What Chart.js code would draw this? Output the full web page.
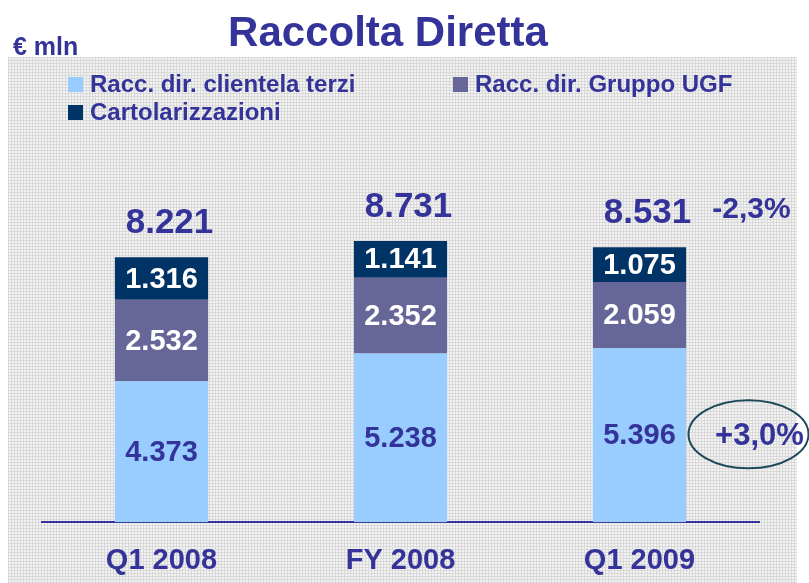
<!DOCTYPE html>
<html>
<head>
<meta charset="utf-8">
<script src="https://cdn.jsdelivr.net/npm/chart.js@4"></script>
<style>
html, body { margin: 0; padding: 0; background: #fff; }
#wrap { position: relative; width: 809px; height: 583px; overflow: hidden; }
#tex {
    position: absolute; left: 8px; top: 57px; width: 789px; height: 526px;
    background-color: #f3f3f3;
    background-image: linear-gradient(#d9d9d9 1px, transparent 1px),
                      linear-gradient(90deg, #d9d9d9 1px, transparent 1px);
    background-size: 3px 3px;
}
canvas { position: absolute; left: 0; top: 0; }
</style>
</head>
<body>
<div id="wrap">
    <div id="tex"></div>
    <canvas id="raccolta" width="809" height="583"></canvas>
</div>
<script>
// Dati (€ mln)
const periodi = ['Q1 2008', 'FY 2008', 'Q1 2009'];
const clientelaTerzi = [4373, 5238, 5396];
const gruppoUGF = [2532, 2352, 2059];
const cartolarizzazioni = [1316, 1141, 1075];
const totali = [8221, 8731, 8531];   // come riportati (arrotondamenti)
const nomiSerie = ['Racc. dir. clientela terzi', 'Racc. dir. Gruppo UGF', 'Cartolarizzazioni'];

const BLU = '#333399';
const FONT = '"Liberation Sans", Arial, sans-serif';
const coloriSerie = ['#99ccff', '#666699', '#003366'];
const coloriEtichette = [BLU, '#ffffff', '#ffffff'];

// 8221 -> "8.221"
function formatta(n) {
    return String(n).replace(/\B(?=(\d{3})+(?!\d))/g, '.');
}
function percentuale(nuovo, vecchio) {
    const v = (nuovo - vecchio) / vecchio * 100;
    return (v >= 0 ? '+' : '') + v.toFixed(1).replace('.', ',') + '%';
}

// Etichette, totali, titolo e legenda
const annotazioni = {
    id: 'annotazioni',
    afterDatasetsDraw(chart) {
        const ctx = chart.ctx;
        const n = chart.data.datasets.length;
        ctx.save();
        ctx.textAlign = 'center';
        ctx.textBaseline = 'middle';

        // valori dentro i segmenti
        ctx.font = 'bold 29px ' + FONT;
        chart.data.datasets.forEach((ds, i) => {
            chart.getDatasetMeta(i).data.forEach((bar, j) => {
                ctx.fillStyle = coloriEtichette[i];
                ctx.fillText(formatta(ds.data[j]), bar.x, (bar.y + bar.base) / 2 + 1);
            });
        });

        // totali sopra le barre
        const barreAlte = chart.getDatasetMeta(n - 1).data;
        ctx.fillStyle = BLU;
        ctx.font = 'bold 35px ' + FONT;
        barreAlte.forEach((bar, j) => {
            ctx.fillText(formatta(totali[j]), bar.x + 8, bar.y - 34);
        });

        // variazione del totale
        const ultima = barreAlte[barreAlte.length - 1];
        ctx.font = 'bold 30px ' + FONT;
        ctx.fillText(percentuale(totali[2], totali[1]), ultima.x + 112, ultima.y - 38);

        // variazione clientela terzi, cerchiata
        const base = chart.getDatasetMeta(0).data[2];
        const yc = (base.y + base.base) / 2 + 1;
        ctx.font = 'bold 31px ' + FONT;
        ctx.fillText(percentuale(clientelaTerzi[2], clientelaTerzi[1]), base.x + 120, yc);
        ctx.beginPath();
        ctx.ellipse(base.x + 109, yc - 2, 60, 34, 0, 0, Math.PI * 2);
        ctx.strokeStyle = '#1c4a5c';
        ctx.lineWidth = 2;
        ctx.stroke();
        ctx.restore();
    },
    afterDraw(chart) {
        const ctx = chart.ctx;
        ctx.save();
        ctx.fillStyle = BLU;
        ctx.textBaseline = 'alphabetic';

        ctx.textAlign = 'center';
        ctx.font = 'bold 42px ' + FONT;
        ctx.fillText('Raccolta Diretta', 388, 46);

        ctx.textAlign = 'left';
        ctx.font = 'bold 25px ' + FONT;
        ctx.fillText('€ mln', 13, 55);

        // legenda
        const posizioni = [[68, 84], [453, 84], [68, 112]];
        ctx.font = 'bold 24px ' + FONT;
        ctx.textBaseline = 'middle';
        chart.data.datasets.forEach((ds, i) => {
            const [x, y] = posizioni[i];
            ctx.fillStyle = ds.backgroundColor;
            ctx.fillRect(x, y - 7, 15, 15);
            ctx.fillStyle = BLU;
            ctx.fillText(ds.label, x + 22, y + 1);
        });
        ctx.restore();
    }
};

const ctx = document.getElementById('raccolta').getContext('2d');
new Chart(ctx, {
    type: 'bar',
    data: {
        labels: periodi,
        datasets: [
            { label: nomiSerie[0], data: clientelaTerzi, backgroundColor: coloriSerie[0] },
            { label: nomiSerie[1], data: gruppoUGF, backgroundColor: coloriSerie[1] },
            { label: nomiSerie[2], data: cartolarizzazioni, backgroundColor: coloriSerie[2] }
        ]
    },
    options: {
        responsive: false,
        animation: false,
        layout: { padding: { top: 200, left: 42, right: 50, bottom: -16 } },
        datasets: { bar: { barPercentage: 0.39, categoryPercentage: 1, borderWidth: 0 } },
        plugins: {
            legend: { display: false },
            tooltip: { enabled: false }
        },
        scales: {
            x: {
                stacked: true,
                grid: { display: false, drawTicks: false },
                border: { display: true, color: BLU, width: 2 },
                ticks: {
                    color: BLU,
                    padding: 21,
                    font: { family: FONT, size: 29, weight: 'bold' }
                }
            },
            y: {
                stacked: true,
                display: false,
                min: 0,
                max: 10000
            }
        }
    },
    plugins: [annotazioni]
});
</script>
</body>
</html>
